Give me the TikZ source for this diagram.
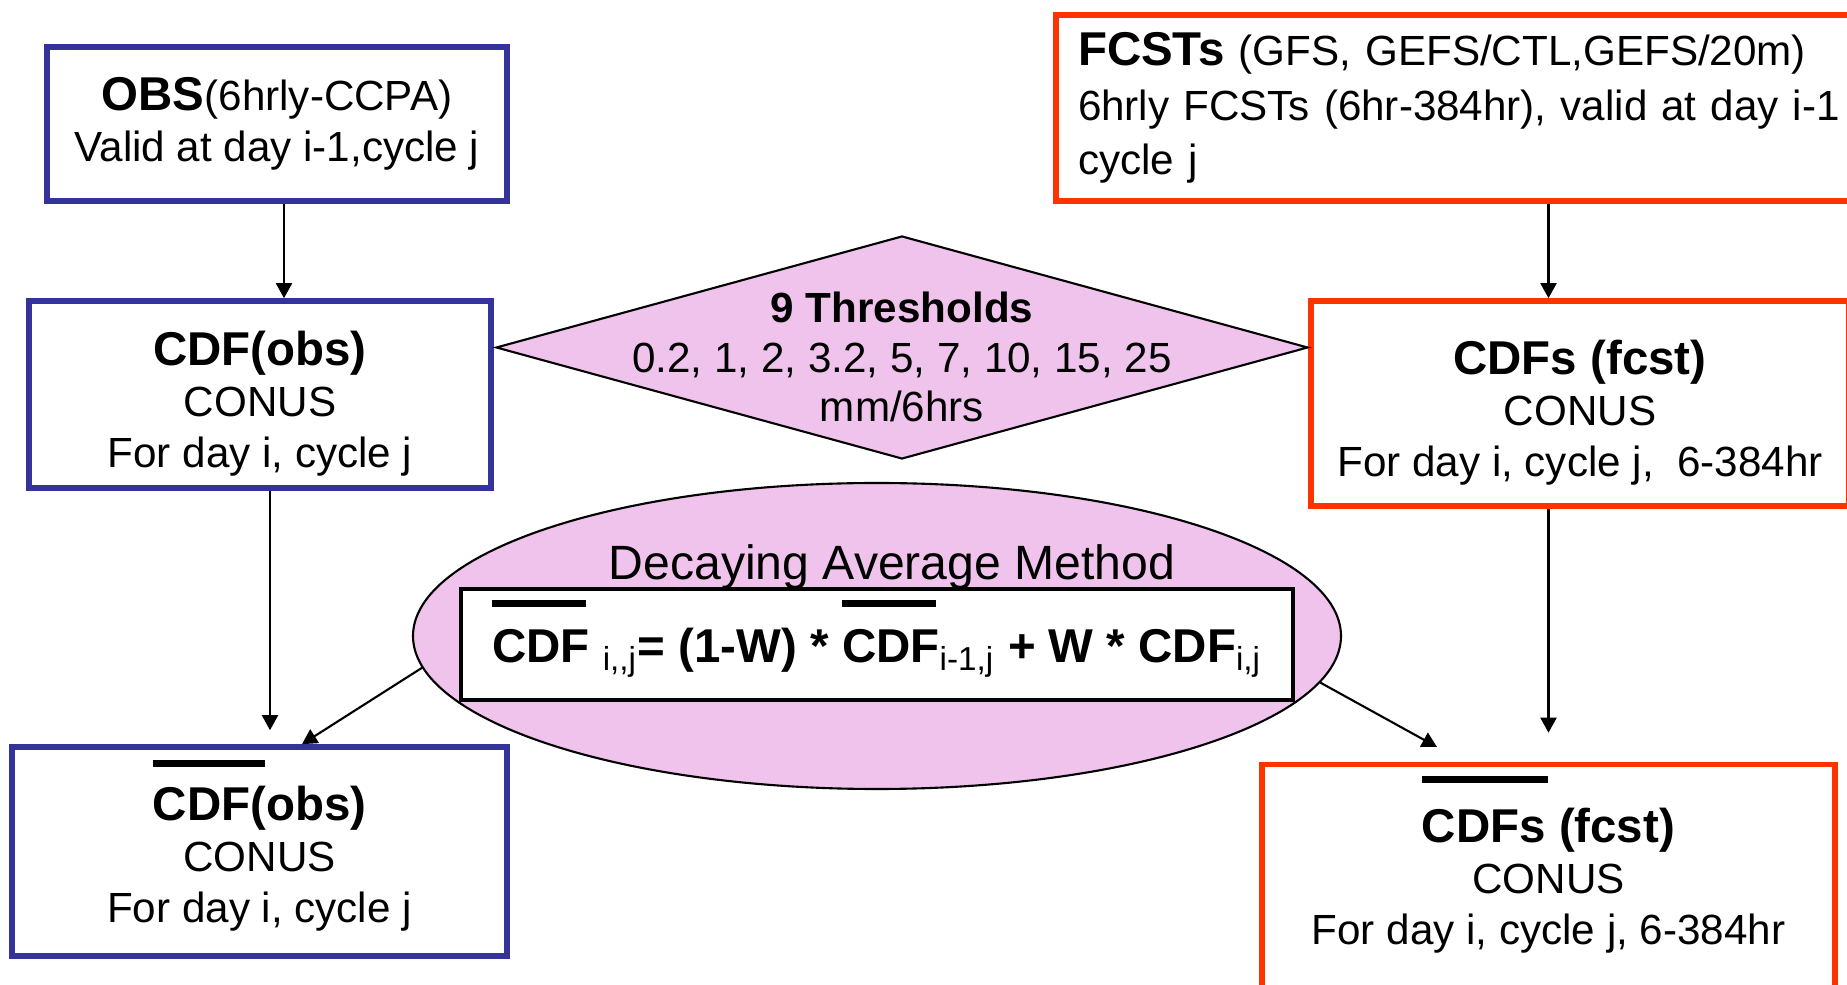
\documentclass[tikz,border=0pt]{standalone}
\usepackage{fontspec}
\setmainfont{Liberation Sans}
\usepackage{tikz}
\usetikzlibrary{arrows.meta,positioning,shapes.geometric}
\definecolor{obsblue}{RGB}{51,51,153}
\definecolor{fcstred}{RGB}{255,51,0}
\definecolor{avgpink}{RGB}{240,195,236}
\newcommand{\ttl}[1]{{\fontsize{13.5}{14.5}\selectfont\bfseries #1}}
\newcommand{\cdfbar}[2]{\rlap{\smash{\raisebox{#2}{\rule{#1}{0.07cm}}}}}
\newcommand{\topstrut}[1]{\rule{0pt}{#1}}

\begin{document}
\begin{tikzpicture}[
    obsbox/.style={draw=obsblue, line width=1.6pt, align=center, inner sep=0pt, font=\fontsize{12}{14.5}\selectfont},
    fcstbox/.style={draw=fcstred, line width=1.6pt, align=center, inner sep=0pt, font=\fontsize{12}{14.5}\selectfont},
    thresh/.style={diamond, draw, line width=0.6pt, fill=avgpink, minimum width=8.12cm, minimum height=2.23cm, inner sep=0pt},
    avg/.style={ellipse, draw, line width=0.6pt, fill=avgpink, minimum width=9.28cm, minimum height=3.06cm, inner sep=0pt},
    arr/.style={-{Triangle[length=0.15cm,width=0.16cm]}, line width=0.6pt}
]
\useasboundingbox (0,0) rectangle (18.47,-9.85);
\clip (0,0) rectangle (18.47,-9.85);

% OBS column
\node[obsbox, minimum width=4.60cm, minimum height=1.54cm] (obs) at (2.77,-1.24)
    {\ttl{OBS}(6hrly-CCPA)\\Valid at day i-1,cycle j};
\node[obsbox, minimum width=4.62cm, minimum height=1.87cm] (cdfobs) at (2.60,-3.945)
    {\topstrut{0.535cm}\ttl{CDF(obs)}\\CONUS\\For day i, cycle j};
\node[obsbox, minimum width=4.95cm, minimum height=2.09cm] (cdfbarobs) at (2.595,-8.515)
    {\topstrut{0.49cm}\ttl{\cdfbar{1.12cm}{0.54cm}CDF(obs)}\\CONUS\\For day i, cycle j};

% FCST column
\node[fcstbox, align=left, text width=7.7cm, inner xsep=0.22cm, minimum height=1.86cm] (fcsts) at (14.63,-1.08)
    {\ttl{FCSTs} (GFS, GEFS/CTL,GEFS/20m)\\[1pt]6hrly FCSTs (6hr-384hr), valid at day i-1\\[1pt]cycle j};
\node[fcstbox, minimum width=5.38cm, minimum height=2.05cm] (cdffcst) at (15.80,-4.035)
    {\topstrut{0.535cm}\ttl{CDFs (fcst)}\\CONUS\\For day i, cycle j,\ \ 6-384hr};
\node[fcstbox, minimum width=5.73cm, minimum height=2.33cm] (cdfbarfcst) at (15.485,-8.81)
    {\ttl{\cdfbar{1.26cm}{0.595cm}CDFs (fcst)}\\CONUS\\For day i, cycle j, 6-384hr};

% thresholds
\node[thresh] (thr) at (9.02,-3.475) {};
\node[align=center, font=\fontsize{12}{14.2}\selectfont] (thrtxt) at (9.02,-3.57)
    {\textbf{9 Thresholds}\\0.2, 1, 2, 3.2, 5, 7, 10, 15, 25\\mm/6hrs};

% decaying average
\node[avg] (dam) at (8.77,-6.36) {};
\node[font=\fontsize{13.7}{16}\selectfont] (damtitle) at (8.92,-5.67) {Decaying Average Method};
\node[draw, line width=1pt, fill=white, minimum width=8.32cm, minimum height=1.11cm, inner sep=0pt,
      font=\fontsize{13.5}{16}\selectfont\bfseries] (formula) at (8.77,-6.445)
    {\topstrut{0.51cm}\cdfbar{0.94cm}{0.555cm}CDF \textsubscript{\mdseries i,{},j}= (1-W) * \cdfbar{0.94cm}{0.555cm}CDF\textsubscript{\mdseries i-1,j} + W * CDF\textsubscript{\mdseries i,j}};

% arrows
\coordinate (a1) at ([xshift=0.07cm]obs.south);
\coordinate (a2) at ([xshift=0.10cm]cdfobs.south);
\coordinate (a4) at (cdfbarfcst.north |- fcsts.south);
\coordinate (l3) at ([xshift=0.425cm]cdfbarobs.north);
\coordinate (l6) at (14.37,-7.47);
\draw[arr] (a1) -- (a1 |- cdfobs.north);
\draw[arr, shorten >=0.14cm] (a2) -- (a2 |- cdfbarobs.north);
\draw[arr] (dam.184) -- (l3);
\draw[arr] (a4) -- (a4 |- cdffcst.north);
\draw[arr, shorten >=0.29cm] (a4 |- cdffcst.south) -- (a4 |- cdfbarfcst.north);
\draw[arr] (dam.-6) -- (l6);

\end{tikzpicture}
\end{document}
